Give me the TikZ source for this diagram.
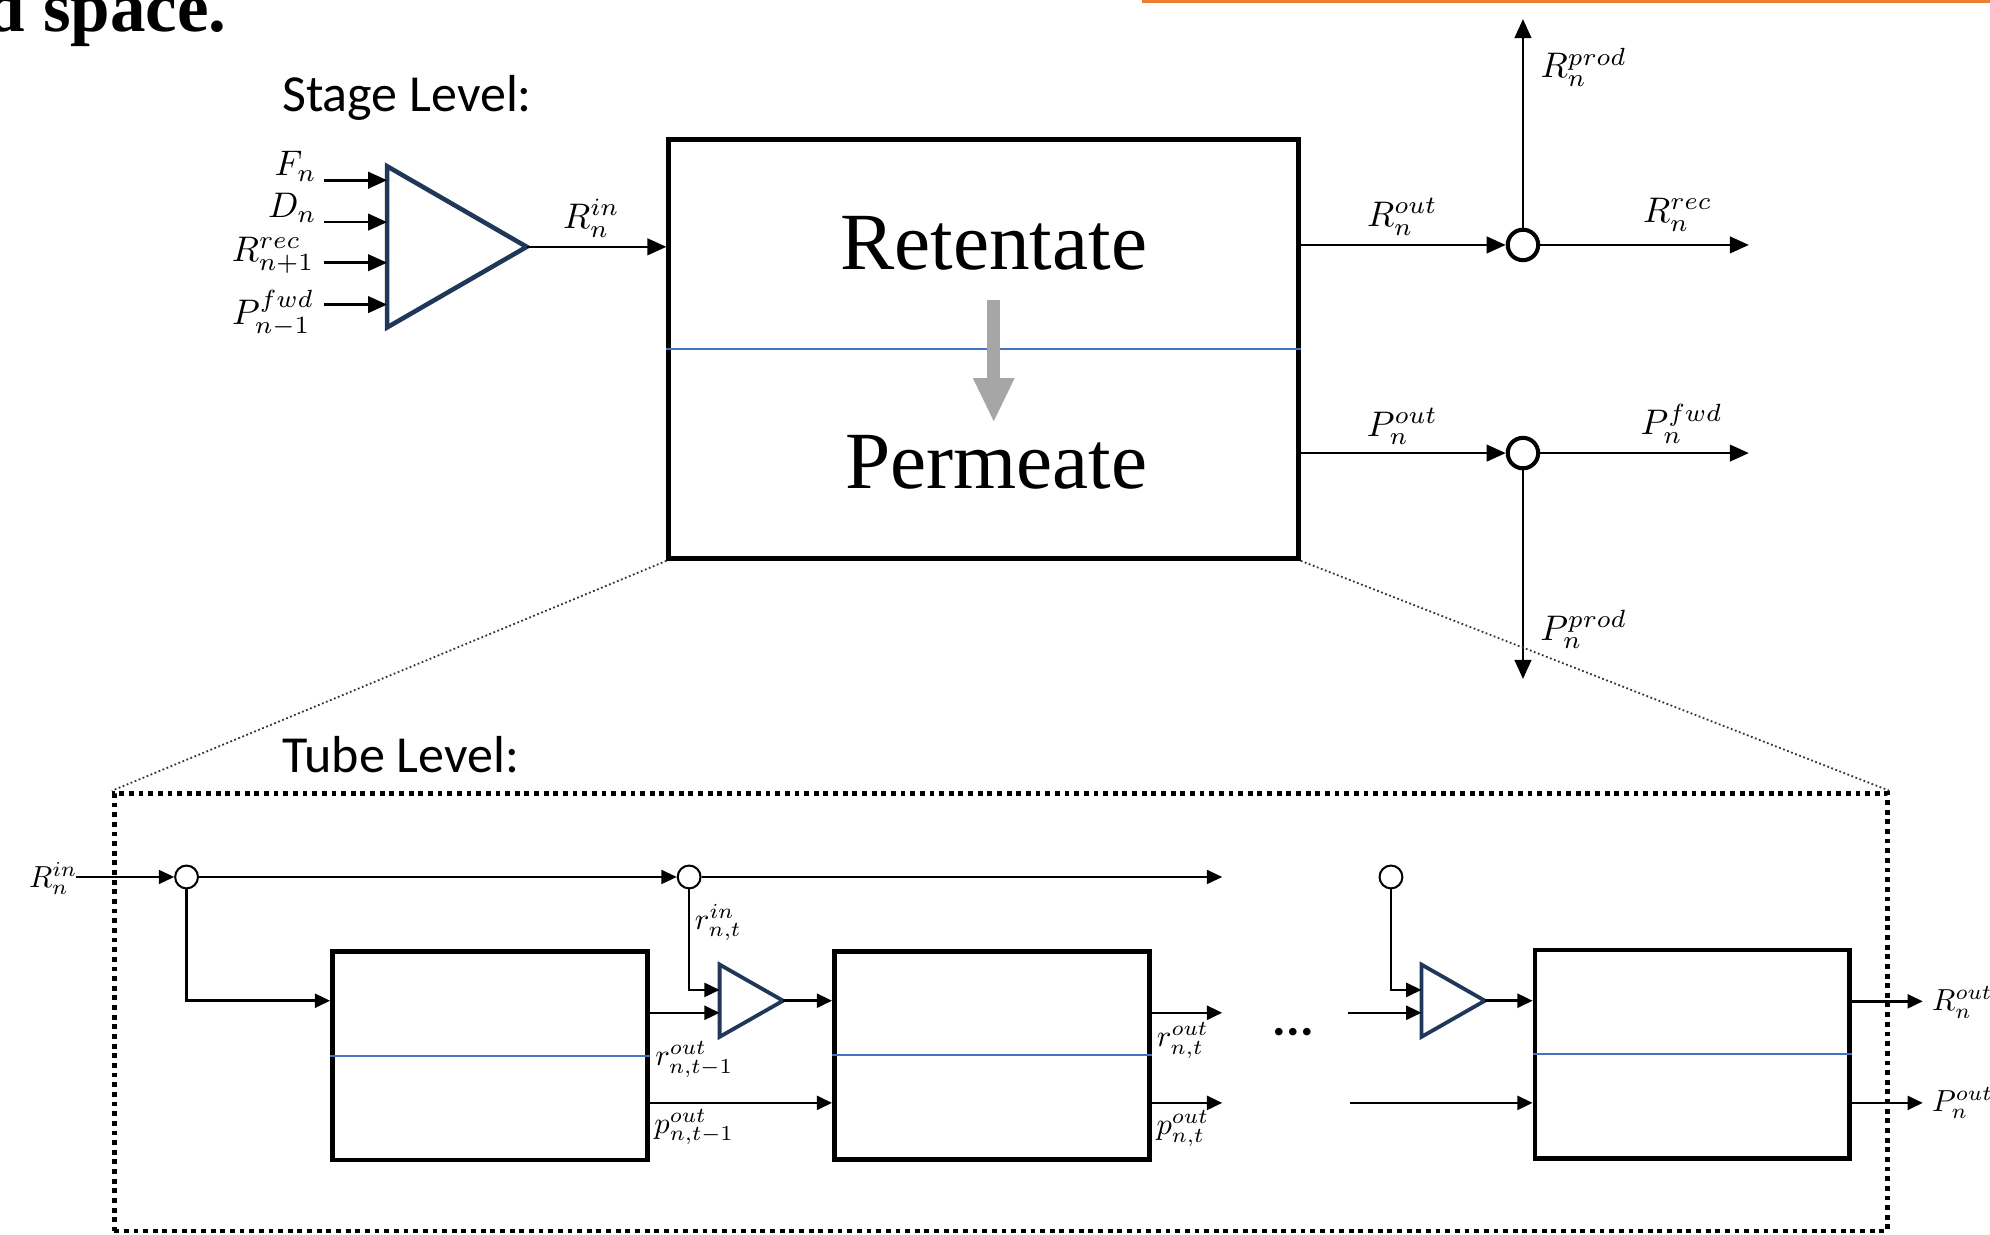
\documentclass[tikz,border=0pt]{standalone}
\usepackage{fontspec}
\newfontfamily\calibfont{Carlito}
\newfontfamily\timesfont{Liberation Serif}
\usetikzlibrary{arrows.meta,calc}
\definecolor{navy}{RGB}{31,56,90}
\definecolor{memblue}{RGB}{68,114,196}
\definecolor{orangeline}{RGB}{237,125,49}
\definecolor{flowgray}{RGB}{166,166,166}
\newcommand{\stagemath}[1]{\scalebox{1.4}{$#1$}}
\newcommand{\tubemath}[1]{\scalebox{1.2}{$#1$}}
\begin{document}
\begin{tikzpicture}[x=0.5pt,y=-0.5pt,
  stagearr/.style={line width=1.05pt,-{Triangle[length=7.5pt,width=6.5pt]}},
  tubearr/.style={line width=1pt,-{Triangle[length=6pt,width=5.5pt]}},
  thinarr/.style={line width=0.7pt,-{Triangle[length=6pt,width=5.5pt]}},
  slabel/.style={inner sep=0pt},
  tlabel/.style={inner sep=0pt},
  bigjoint/.style={circle,draw,line width=1.6pt,minimum size=12pt,inner sep=0pt,fill=white},
  smalljoint/.style={circle,draw,line width=0.8pt,minimum width=8pt,minimum height=9pt,inner sep=0pt,fill=white},
  stagebox/.style={draw,line width=1.9pt,minimum width=248pt,minimum height=165pt,inner sep=0pt},
  tubebox/.style={draw,line width=1.9pt,minimum width=124pt,minimum height=82pt,inner sep=0pt},
  membrane/.style={memblue,line width=0.8pt},
  mixer/.style={navy,line width=1.8pt,line join=miter},
  smallmixer/.style={navy,line width=1.5pt,line join=miter},
  zoomline/.style={densely dotted,line width=0.7pt,black!80},
  title/.style={font=\calibfont\fontsize{20.5}{24}\selectfont,inner sep=0pt}
]
\useasboundingbox (0,0) rectangle (1568,973);

% slide remnants
\node[font=\timesfont\bfseries\fontsize{28}{30}\selectfont,anchor=base east,inner sep=0pt] (slidetext) at (179,25) {d space.};
\coordinate (orA) at (900,1);
\coordinate (orB) at (1568,1);
\draw[orangeline,line width=1.5pt] (orA) -- (orB);

% ===== Stage level =====
\node[title,anchor=base west] (stagetitle) at (222,88) {Stage Level:};

\coordinate (t1a) at (305,131);
\coordinate (t1b) at (305,258);
\coordinate (t1tip) at (415,194.5);
\draw[mixer] (t1a) -- (t1tip) -- (t1b) -- cycle;

\coordinate (in1) at (255,142);
\coordinate (in2) at (255,175);
\coordinate (in3) at (255,207);
\coordinate (in4) at (255,240);
\draw[stagearr] (in1) -- (in1 -| t1a);
\draw[stagearr] (in2) -- (in2 -| t1a);
\draw[stagearr] (in3) -- (in3 -| t1a);
\draw[stagearr] (in4) -- (in4 -| t1a);
\node[slabel,anchor=east] (lF) at (250,131) {\stagemath{F_n}};
\node[slabel,anchor=east] (lD) at (250,164) {\stagemath{D_n}};
\node[slabel,anchor=east] (lR) at (248,201) {\stagemath{R_{n+1}^{rec}}};
\node[slabel,anchor=east] (lP) at (248,247) {\stagemath{P_{n-1}^{fwd}}};

\node[stagebox] (main) at (775,275) {};
\draw[membrane] (main.west) -- (main.east);
\node[font=\timesfont\fontsize{32}{36}\selectfont,inner sep=0pt] (ret) at (783,192) {Retentate};
\node[font=\timesfont\fontsize{32}{36}\selectfont,inner sep=0pt] (perm) at (785,364) {Permeate};
\coordinate (gtop) at (783,236);
\coordinate (gbot) at (783,333);
\draw[flowgray,line width=5pt,-{Triangle[length=17.5pt,width=15pt]}] (gtop) -- (gbot);

\draw[stagearr] (t1tip) -- (t1tip -| main.west);
\node[slabel] (lRin) at (466,172) {\stagemath{R_n^{in}}};

\node[bigjoint] (jr) at (1200,193) {};
\node[bigjoint] (jp) at (1200,357) {};
\coordinate (rrecend) at (1378,193);
\coordinate (rprodend) at (1200,15);
\coordinate (pfwdend) at (1378,357);
\coordinate (pprodend) at (1200,535);
\draw[stagearr] (main.east |- jr) -- (jr.west);
\draw[stagearr] (jr.east) -- (rrecend);
\draw[stagearr] (jr.north) -- (rprodend);
\draw[stagearr] (main.east |- jp) -- (jp.west);
\draw[stagearr] (jp.east) -- (pfwdend);
\draw[stagearr] (jp.south) -- (pprodend);
\node[slabel] (lRout) at (1105,171) {\stagemath{R_n^{out}}};
\node[slabel] (lRrec) at (1322,169) {\stagemath{R_n^{rec}}};
\node[slabel] (lRprod) at (1248,53) {\stagemath{R_n^{prod}}};
\node[slabel] (lPout) at (1105,336) {\stagemath{P_n^{out}}};
\node[slabel] (lPfwd) at (1325,334) {\stagemath{P_n^{fwd}}};
\node[slabel] (lPprod) at (1248,496) {\stagemath{P_n^{prod}}};

% ===== Tube level =====
\node[title,anchor=base west] (tubetitle) at (222,609) {Tube Level:};
\node[draw,line width=1.9pt,dash pattern=on 1.9pt off 1.9pt,minimum width=698.5pt,minimum height=172.5pt,inner sep=0pt] (tube) at (788.5,797.5) {};
\draw[zoomline] (main.south west) -- (tube.north west);
\draw[zoomline] (main.south east) -- (tube.north east);

\node[tubebox] (tb1) at (386,832) {};
\node[tubebox] (tb2) at (781.5,831.5) {};
\node[tubebox] (tb3) at (1333.5,830.5) {};
\draw[membrane] (tb1.west) -- (tb1.east);
\draw[membrane] (tb2.west) -- (tb2.east);
\draw[membrane] (tb3.west) -- (tb3.east);

\coordinate (rowA) at (0,780);
\coordinate (rowR) at (0,788.5);
\coordinate (rowRo) at (0,798);
\coordinate (rowP) at (0,869);

\coordinate (t2a) at (567,760);
\coordinate (t2b) at (567,817);
\coordinate (t2tip) at (617,788.5);
\draw[smallmixer] (t2a) -- (t2tip) -- (t2b) -- cycle;
\coordinate (t3a) at (1120,760);
\coordinate (t3b) at (1120,817);
\coordinate (t3tip) at (1170,788.5);
\draw[smallmixer] (t3a) -- (t3tip) -- (t3b) -- cycle;

\node[smalljoint] (c1) at (147,691) {};
\node[smalljoint] (c2) at (543,691) {};
\node[smalljoint] (c3) at (1096,691) {};
\coordinate (rinstart) at (60,691);
\coordinate (topend) at (963,691);
\draw[thinarr] (rinstart) -- (c1.west);
\draw[thinarr] (c1.east) -- (c2.west);
\draw[thinarr] (c2.east) -- (topend);
\draw[tubearr] (c1.south) |- (tb1.west |- rowR);
\draw[tubearr] (c2.south) |- (t2a |- rowA);
\draw[tubearr] (c3.south) |- (t3a |- rowA);

\draw[tubearr] (tb1.east |- rowRo) -- (t2a |- rowRo);
\draw[tubearr] (t2tip) -- (tb2.west |- t2tip);
\draw[tubearr] (tb1.east |- rowP) -- (tb2.west |- rowP);
\coordinate (r2end) at (963,798);
\coordinate (p2end) at (963,869);
\draw[tubearr] (tb2.east |- rowRo) -- (r2end);
\draw[tubearr] (tb2.east |- rowP) -- (p2end);

\coordinate (r3start) at (1062,798);
\coordinate (p3start) at (1064,869);
\draw[tubearr] (r3start) -- (t3a |- rowRo);
\draw[tubearr] (t3tip) -- (tb3.west |- t3tip);
\draw[tubearr] (p3start) -- (tb3.west |- rowP);
\coordinate (r3end) at (1515,789);
\coordinate (p3end) at (1515,869);
\draw[tubearr] (tb3.east |- r3end) -- (r3end);
\draw[tubearr] (tb3.east |- rowP) -- (p3end);

\node[font=\calibfont\bfseries\fontsize{20}{22}\selectfont,inner sep=0pt,anchor=base] (dots) at (1019,816) {...};

\node[tlabel] (tRin) at (42,692) {\tubemath{R_n^{in}}};
\node[tlabel] (trin) at (566,727) {\tubemath{r_{n,t}^{in}}};
\node[tlabel] (tro1) at (547,835) {\tubemath{r_{n,t-1}^{out}}};
\node[tlabel] (tpo1) at (547,888) {\tubemath{p_{n,t-1}^{out}}};
\node[tlabel] (tro2) at (932,820) {\tubemath{r_{n,t}^{out}}};
\node[tlabel] (tpo2) at (932,889) {\tubemath{p_{n,t}^{out}}};
\node[tlabel,anchor=west] (tRout) at (1522,790) {\tubemath{R_n^{out}}};
\node[tlabel,anchor=west] (tPout) at (1522,869) {\tubemath{P_n^{out}}};
\end{tikzpicture}
\end{document}
